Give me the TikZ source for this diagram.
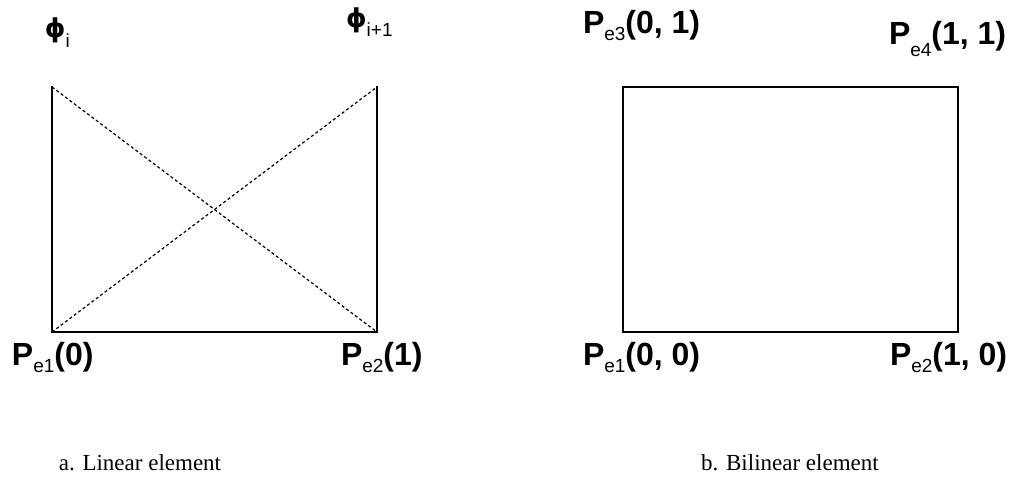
\documentclass[tikz,border=0pt]{standalone}
\usepackage{fontspec}
\setmainfont{Liberation Sans}
\newfontfamily\capfont{Liberation Serif}
\newfontfamily\phifont{DejaVu Sans}
\newcommand{\mainsz}{\fontsize{32}{32}\selectfont\bfseries}
\newcommand{\subsz}{\fontsize{19}{19}\selectfont\mdseries}
\newcommand{\plab}[3]{{\mainsz #1}\raisebox{-7pt}{\subsz #2}{\mainsz #3}}
\begin{document}
\begin{tikzpicture}[x=1pt,y=-1pt,
  frame/.style={line width=2pt, line cap=rect},
  diag/.style={line width=1.2pt, dash pattern=on 3pt off 2.5pt},
  lab/.style={anchor=base west, inner sep=0pt, outer sep=0pt},
  captext/.style={anchor=base, inner sep=0pt, font=\capfont\fontsize{23}{23}\selectfont}]
\useasboundingbox (0,0) rectangle (1013,480);
% linear element
\coordinate (a1) at (52,332);
\coordinate (a2) at (377,332);
\coordinate (a3) at (52,87);
\coordinate (a4) at (377,87);
\draw[diag] (a3) -- (a2);
\draw[diag] (a1) -- (a4);
\draw[frame] (a3) -- (a1) -- (a2) -- (a4);
% bilinear element
\coordinate (b1) at (623,332);
\coordinate (b2) at (958,332);
\coordinate (b3) at (623,87);
\coordinate (b4) at (958,87);
\draw[frame] (b1) -- (b2) -- (b4) -- (b3) -- cycle;
% labels
\node[lab] (phii) at (45,37) {{\phifont\bfseries\fontsize{26}{26}\selectfont ϕ}\raisebox{-10pt}{\subsz i}};
\node[lab] (phii1) at (346,27) {{\phifont\bfseries\fontsize{26}{26}\selectfont ϕ}\raisebox{-9pt}{\subsz i+1}};
\node[lab] (pa1) at (12,365) {\plab{P}{e1}{(0)}};
\node[lab] (pa2) at (341,365) {\plab{P}{e2}{(1)}};
\node[lab] (pb3) at (583,33) {\plab{P}{e3}{(0, 1)}};
\node[lab] (pb4) at (889,44) {{\mainsz P}\raisebox{-12pt}{\subsz e4}{\mainsz (1, 1)}};
\node[lab] (pb1) at (583,365) {\plab{P}{e1}{(0, 0)}};
\node[lab] (pb2) at (890,365) {\plab{P}{e2}{(1, 0)}};
% captions
\node[captext] (ca) at (140,470) {a. Linear element};
\node[captext] (cb) at (790,470) {b. Bilinear element};
\end{tikzpicture}
\end{document}
